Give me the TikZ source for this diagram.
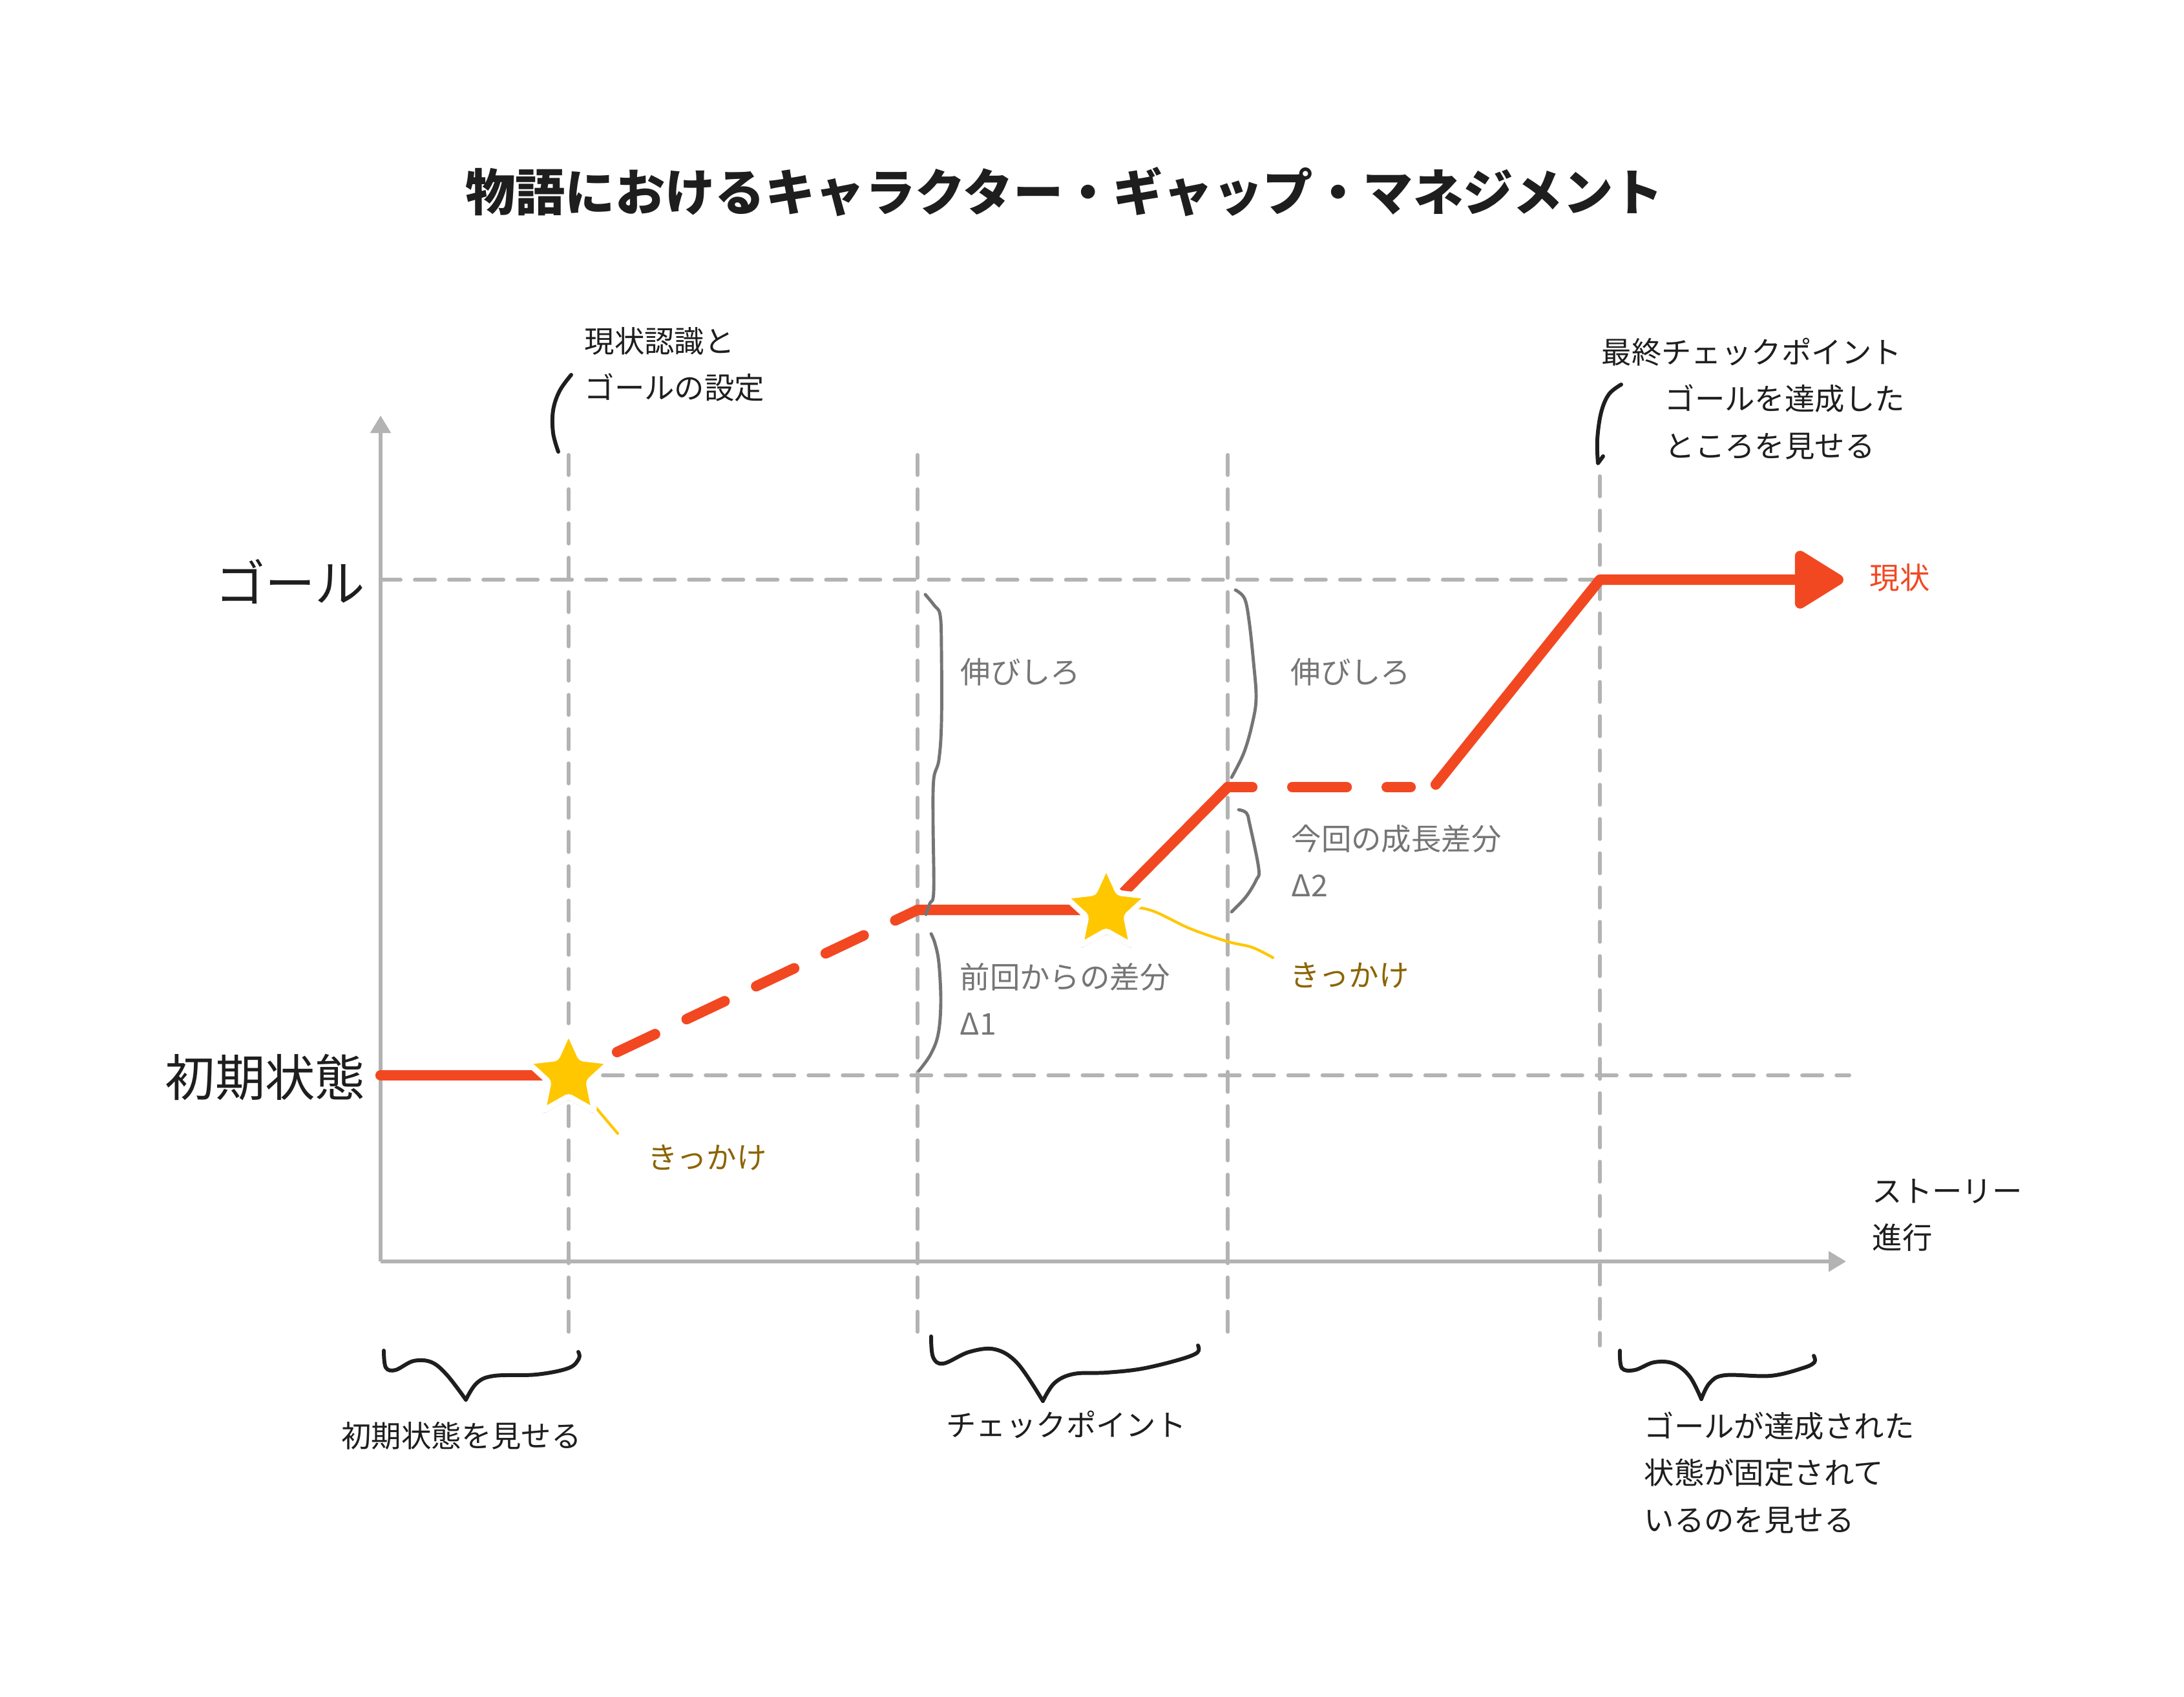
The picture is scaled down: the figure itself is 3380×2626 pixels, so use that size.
\documentclass[tikz,border=0pt]{standalone}
\usepackage{fontspec}
\setmainfont{Noto Sans CJK JP}
\usetikzlibrary{arrows.meta,shapes.geometric,shadows}

\definecolor{figred}{HTML}{F24822}
\definecolor{figyellow}{HTML}{FFC700}
\definecolor{figgray}{HTML}{B3B3B3}
\definecolor{bracegray}{HTML}{757575}
\definecolor{inkblack}{HTML}{1E1E1E}
\definecolor{kikkake}{HTML}{8C6400}

\begin{document}
\begin{tikzpicture}[x = 0.01cm, y = -0.01cm,
    gridline/.style = {draw = figgray, line width = 1.7pt, line cap = round, dash pattern = on 0.31cm off 0.22cm},
    axisline/.style = {draw = figgray, line width = 1.5pt, -{Triangle[length = 0.27cm, width = 0.31cm]}},
    redline/.style = {draw = figred, line width = 4.6pt, line cap = round, line join = round},
    trigger/.style = {draw = figyellow, line width = 1.2pt, line cap = round},
    starmark/.style = {star, star points = 5, star point ratio = 2.1, fill = figyellow, draw = white,
        line width = 2.5pt, minimum size = 1.36cm, inner sep = 0pt, rounded corners = 1.2pt,
        drop shadow = {shadow xshift = 0pt, shadow yshift = -1.5pt, opacity = 0.15, fill = black}},
    note/.style = {text = inkblack, font = \fontsize{13.2}{20.5}\selectfont, align = left, inner sep = 0pt},
    greynote/.style = {note, text = bracegray},
    bignote/.style = {text = inkblack, font = \fontsize{22}{26}\selectfont, inner sep = 0pt},
    inkbrace/.style = {draw = inkblack, line width = 1.7pt, line cap = round, line join = round},
    greybrace/.style = {draw = bracegray, line width = 1.4pt, line cap = round, line join = round}]

    \path[use as bounding box, fill = white] (0,0) rectangle (3380,2626);

    % title
    \node[text = inkblack, font = \fontsize{22}{26}\selectfont\bfseries, inner sep = 0pt] (title) at (1647,297)
        {物語におけるキャラクター・ギャップ・マネジメント};

    % grid
    \foreach \x/\top in {880/704, 1420/704, 1900/704, 2476/737}
        \draw[gridline] (\x,\top) -- (\x,2082);
    \coordinate (orig) at (589,1952);
    \coordinate (ytop) at (589,643);
    \coordinate (xend) at (2857,1952);
    \coordinate (goalL) at (589,897);
    \coordinate (goalR) at (2476,897);
    \coordinate (k1) at (880,1664);
    \coordinate (k2) at (1712,1408);
    \coordinate (startR) at (2862,1664);
    \draw[gridline] (goalL) -- (goalR);
    \draw[gridline] (k1) -- (startR);

    % axes
    \draw[axisline] (orig) -- (ytop);
    \draw[axisline] (orig) -- (xend);

    % growth line
    \coordinate (s0) at (589,1664);
    \coordinate (d1) at (955,1628);
    \coordinate (c1) at (1420,1408);
    \coordinate (c2) at (1900,1218);
    \coordinate (c3) at (2183,1218);
    \coordinate (c4) at (2222,1214);
    \coordinate (tip) at (2853,897);
    \draw[redline] (s0) -- (k1);
    \draw[redline, dash pattern = on 0.65cm off 0.54cm] (d1) -- (c1);
    \draw[redline] (c1) -- (k2) -- (c2);
    \draw[redline, dash pattern = on 0.84cm off 0.62cm, dash phase = 0.46cm] (c2) -- (c3);
    \draw[redline, -{Triangle[length = 0.83cm, width = 0.98cm, round]}] (c4) -- (goalR) -- (tip);

    % triggers
    \coordinate (k1end) at (956,1754);
    \coordinate (k2end) at (1970,1482);
    \draw[trigger] (k1) -- (k1end);
    \draw[trigger] plot[smooth, tension = 0.6] coordinates {(k2) (1750,1404) (1785,1410) (1842,1437) (1900,1457) (1938,1466) (k2end)};
    \node[starmark] (star1) at (k1) {};
    \node[starmark] (star2) at (k2) {};
    \node[note, text = kikkake, anchor = west] (kk1) at (1002,1791) {きっかけ};
    \node[note, text = kikkake, anchor = west] (kk2) at (1996,1509) {きっかけ};

    % levels
    \node[bignote, anchor = east] (goal) at (566,900) {ゴール};
    \node[bignote, anchor = east] (init) at (566,1667) {初期状態};
    \node[note, text = figred, anchor = west] (now) at (2893,894) {現状};
    \node[note, anchor = west] (story) at (2897,1880) {ストーリー\\進行};

    % grey braces
    \draw[greybrace] plot[smooth, tension = 0.6] coordinates {(1432,920) (1446,937) (1455,952) (1457,1005) (1457,1118)
        (1453,1176) (1445,1206) (1444,1271) (1445,1379) (1439,1398) (1433,1415)};
    \draw[greybrace] plot[smooth, tension = 0.6] coordinates {(1441,1445) (1447,1460) (1453,1490) (1456,1550)
        (1452,1600) (1440,1632) (1422,1657)};
    \draw[greybrace] plot[smooth, tension = 0.6] coordinates {(1912,913) (1926,926) (1933,960) (1940,1025)
        (1944,1080) (1938,1120) (1925,1165) (1906,1203)};
    \draw[greybrace] plot[smooth, tension = 0.6] coordinates {(1917,1253) (1929,1258) (1934,1275) (1948,1344)
        (1944,1362) (1928,1388) (1906,1411)};
    \node[greynote, anchor = west] (room1) at (1486,1040) {伸びしろ};
    \node[greynote, anchor = west] (room2) at (1997,1040) {伸びしろ};
    \node[greynote, anchor = west] (delta1) at (1485,1546) {前回からの差分\\Δ1};
    \node[greynote, anchor = west] (delta2) at (1998,1332) {今回の成長差分\\Δ2};

    % top notes
    \draw[inkbrace] plot[smooth, tension = 0.6] coordinates {(864,699) (856,670) (856,635) (866,605) (884,580)};
    \node[note, anchor = west] (aware) at (904,564) {現状認識と\\ゴールの設定};
    \draw[inkbrace] plot[smooth, tension = 0.6] coordinates {(2509,595) (2490,610) (2478,638) (2472,680) (2473,717)}
        -- (2481,706);
    \node[note, anchor = west] (final) at (2478,545) {最終チェックポイント};
    \node[note, anchor = west] (reach) at (2576,653) {ゴールを達成した\\ところを見せる};

    % bottom braces
    \draw[inkbrace] plot[smooth, tension = 0.6] coordinates {(594,2090) (597,2116) (612,2120) (640,2106) (668,2108)
        (692,2128) (721,2166)};
    \draw[inkbrace] plot[smooth, tension = 0.6] coordinates {(721,2166) (738,2140) (765,2129) (830,2127) (880,2117)
        (896,2102) (895,2092)};
    \node[note, anchor = center] (showinit) at (714,2222) {初期状態を見せる};
    \draw[inkbrace] plot[smooth, tension = 0.6] coordinates {(1441,2068) (1444,2100) (1460,2110) (1500,2092)
        (1540,2088) (1575,2110) (1614,2168)};
    \draw[inkbrace] plot[smooth, tension = 0.6] coordinates {(1614,2168) (1632,2140) (1662,2126) (1712,2124)
        (1767,2118) (1825,2104) (1853,2093) (1854,2082)};
    \node[note, anchor = center] (check) at (1650,2205) {チェックポイント};
    \draw[inkbrace] plot[smooth, tension = 0.6] coordinates {(2507,2090) (2510,2117) (2530,2120) (2560,2108)
        (2590,2110) (2615,2130) (2633,2165)};
    \draw[inkbrace] plot[smooth, tension = 0.6] coordinates {(2633,2165) (2646,2140) (2670,2128) (2740,2129)
        (2790,2117) (2808,2108) (2807,2098)};
    \node[note, anchor = west] (fixed) at (2544,2279) {ゴールが達成された\\状態が固定されて\\いるのを見せる};
\end{tikzpicture}
\end{document}
